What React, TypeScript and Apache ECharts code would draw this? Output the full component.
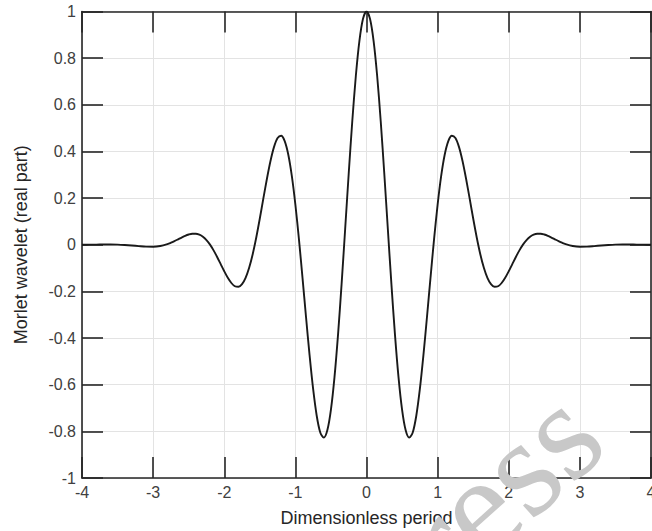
import React, { useEffect, useRef } from "react";
import * as echarts from "echarts";

const periods = [
  -4.0, -3.9, -3.8, -3.7, -3.6, -3.5, -3.4, -3.3, -3.2, -3.1, -3.0, -2.9, -2.8,
  -2.75, -2.7, -2.65, -2.6, -2.55, -2.5, -2.45, -2.4, -2.35, -2.3, -2.25, -2.2,
  -2.15, -2.1, -2.05, -2.0, -1.95, -1.9, -1.85, -1.8, -1.75, -1.7, -1.65, -1.6,
  -1.55, -1.5, -1.45, -1.4, -1.35, -1.3, -1.25, -1.2, -1.15, -1.1, -1.05, -1.0,
  -0.95, -0.9, -0.85, -0.8, -0.75, -0.7, -0.65, -0.6, -0.55, -0.5, -0.45, -0.4,
  -0.35, -0.3, -0.25, -0.2, -0.15, -0.1, -0.05, 0.0,
  0.05, 0.1, 0.15, 0.2, 0.25, 0.3, 0.35, 0.4, 0.45, 0.5, 0.55, 0.6, 0.65, 0.7,
  0.75, 0.8, 0.85, 0.9, 0.95, 1.0, 1.05, 1.1, 1.15, 1.2, 1.25, 1.3, 1.35, 1.4,
  1.45, 1.5, 1.55, 1.6, 1.65, 1.7, 1.75, 1.8, 1.85, 1.9, 1.95, 2.0, 2.05, 2.1,
  2.15, 2.2, 2.25, 2.3, 2.35, 2.4, 2.45, 2.5, 2.55, 2.6, 2.65, 2.7, 2.75, 2.8,
  2.9, 3.0, 3.1, 3.2, 3.3, 3.4, 3.5, 3.6, 3.7, 3.8, 3.9, 4.0,
];

const wavelet = [
  0.0001, 0.0004, 0.0007, 0.001, 0.001, 0.0005, -0.0009, -0.003, -0.0057, -0.008,
  -0.0084, -0.0053, 0.0027, 0.0086, 0.0156, 0.0232, 0.0309, 0.0381, 0.0438,
  0.0473, 0.0474, 0.0433, 0.0343, 0.02, 0.0004, -0.0241, -0.0524, -0.083,
  -0.1136, -0.1416, -0.164, -0.1779, -0.1803, -0.1689, -0.1419, -0.0989,
  -0.0405, 0.0312, 0.1125, 0.1985, 0.283, 0.359, 0.4195, 0.4576, 0.4674,
  0.4446, 0.387, 0.2951, 0.172, 0.0239, -0.1406, -0.3108, -0.4746, -0.6194,
  -0.733, -0.8048, -0.8269, -0.7946, -0.707, -0.5677, -0.3842, -0.1677, 0.0676,
  0.3056, 0.5296, 0.7235, 0.8732, 0.9677, 1.0,
  0.9677, 0.8732, 0.7235, 0.5296, 0.3056, 0.0676, -0.1677, -0.3842, -0.5677,
  -0.707, -0.7946, -0.8269, -0.8048, -0.733, -0.6194, -0.4746, -0.3108, -0.1406,
  0.0239, 0.172, 0.2951, 0.387, 0.4446, 0.4674, 0.4576, 0.4195, 0.359, 0.283,
  0.1985, 0.1125, 0.0312, -0.0405, -0.0989, -0.1419, -0.1689, -0.1803, -0.1779,
  -0.164, -0.1416, -0.1136, -0.083, -0.0524, -0.0241, 0.0004, 0.02, 0.0343,
  0.0433, 0.0474, 0.0473, 0.0438, 0.0381, 0.0309, 0.0232, 0.0156, 0.0086, 0.0027,
  -0.0053, -0.0084, -0.008, -0.0057, -0.003, -0.0009, 0.0005, 0.001, 0.001,
  0.0007, 0.0004, 0.0001,
];

const xTitle = "Dimensionless period";
const yTitle = "Morlet wavelet (real part)";
const watermark = "Press";

export default function App() {
  const ref = useRef<HTMLDivElement>(null);

  useEffect(() => {
    document.body.style.margin = "0";
    if (!ref.current) return;
    const chart = echarts.init(ref.current, undefined, { renderer: "svg" });
    const font = "'Liberation Sans', Arial, sans-serif";
    const axisColor = "#262626";
    const gridColor = "#e3e3e3";
    const labelStyle = { color: "#404040", fontSize: 16, fontFamily: font };

    const baseX = {
      type: "value" as const,
      min: -4,
      max: 4,
      interval: 1,
      axisLine: { show: true, onZero: false, lineStyle: { color: axisColor, width: 1.6 } },
      axisTick: { show: true, inside: true, length: 21, lineStyle: { color: axisColor, width: 1.6 } },
      splitLine: { show: false },
    };
    const baseY = {
      type: "value" as const,
      min: -1,
      max: 1,
      interval: 0.2,
      axisLine: { show: true, onZero: false, lineStyle: { color: axisColor, width: 1.6 } },
      axisTick: { show: true, inside: true, length: 21, lineStyle: { color: axisColor, width: 1.6 } },
      splitLine: { show: false },
    };

    chart.setOption({
      animation: false,
      backgroundColor: "#ffffff",
      grid: {
        left: 82,
        top: 11.5,
        right: 1,
        bottom: 53,
        containLabel: false,
        outerBoundsMode: "none",
      },
      xAxis: [
        {
          ...baseX,
          position: "bottom",
          splitLine: { show: true, lineStyle: { color: gridColor, width: 1 } },
          axisLabel: { ...labelStyle, margin: 6, hideOverlap: false },
          name: xTitle,
          nameLocation: "middle",
          nameGap: 31,
          nameTextStyle: { color: "#262626", fontSize: 18, fontFamily: font },
        },
        { ...baseX, position: "top", axisLabel: { show: false } },
      ],
      yAxis: [
        {
          ...baseY,
          position: "left",
          splitLine: { show: true, lineStyle: { color: gridColor, width: 1 } },
          axisLabel: {
            ...labelStyle,
            margin: 6,
            formatter: (v: number) => String(Math.round(v * 10) / 10),
          },
          name: yTitle,
          nameLocation: "middle",
          nameGap: 52,
          nameTextStyle: { color: "#262626", fontSize: 18, fontFamily: font },
        },
        { ...baseY, position: "right", axisLabel: { show: false } },
      ],
      series: [
        {
          type: "line",
          data: periods.map((p, i) => [p, wavelet[i]]),
          showSymbol: false,
          smooth: 0.3,
          lineStyle: { color: "#1a1a1a", width: 1.9 },
          z: 3,
        },
      ],
      graphic: [
        {
          type: "text",
          x: 360,
          y: 612,
          rotation: (42 * Math.PI) / 180,
          z: 100,
          silent: true,
          style: {
            text: watermark,
            font: "140px 'Liberation Serif', 'Times New Roman', serif",
            fill: "#c8c8c8",
            textAlign: "left",
            textVerticalAlign: "middle",
          },
        },
      ],
    });
    return () => chart.dispose();
  }, []);

  return <div ref={ref} style={{ width: 652, height: 531 }} />;
}
